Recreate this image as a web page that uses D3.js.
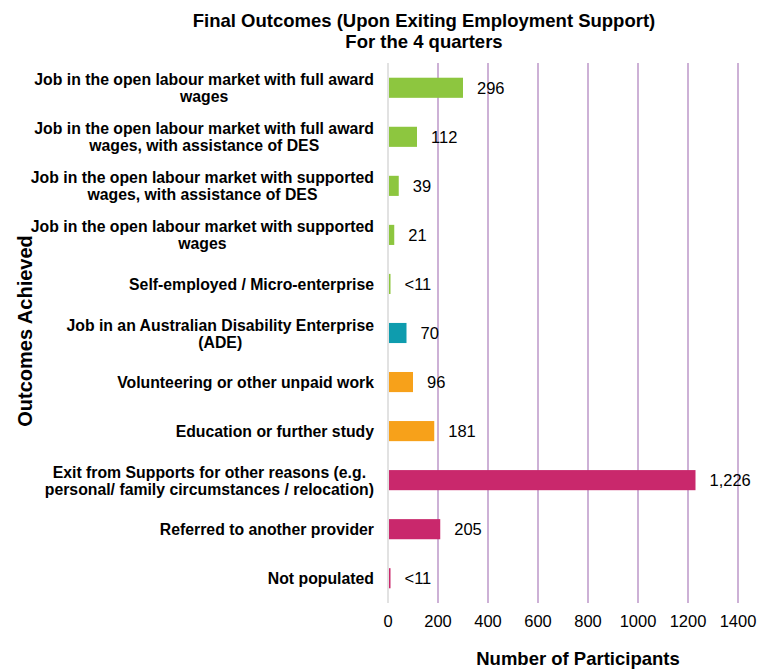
<!DOCTYPE html>
<html>
<head>
<meta charset="utf-8">
<script src="https://cdn.jsdelivr.net/npm/d3@7"></script>
<style>
  body { margin: 0; background: #fff; }
  text { font-family: "Liberation Sans", Arial, sans-serif; fill: #000; }
</style>
</head>
<body>
<svg id="chart" width="758" height="671"></svg>
<script>
// data
const categories = [
  ["Job in the open labour market with full award", "wages"],
  ["Job in the open labour market with full award", "wages, with assistance of DES"],
  ["Job in the open labour market with supported", "wages, with assistance of DES"],
  ["Job in the open labour market with supported", "wages"],
  ["Self-employed / Micro-enterprise"],
  ["Job in an Australian Disability Enterprise", "(ADE)"],
  ["Volunteering or other unpaid work"],
  ["Education or further study"],
  ["Exit from Supports for other reasons (e.g.", "personal/ family circumstances / relocation)"],
  ["Referred to another provider"],
  ["Not populated"]
];
const values = [296, 112, 39, 21, 6, 70, 96, 181, 1226, 205, 6];
const valueLabels = ["296", "112", "39", "21", "<11", "70", "96", "181", "1,226", "205", "<11"];
const groups = ["open", "open", "open", "open", "open", "ade", "other", "other", "exit", "exit", "exit"];
const xTicks = [0, 200, 400, 600, 800, 1000, 1200, 1400];

const svg = d3.select("#chart");
const margin = {top: 63, right: 20, bottom: 68, left: 388};
const width = 758, height = 671;

const x = d3.scaleLinear().domain([0, 1400]).range([margin.left, 738]);
const y = d3.scaleBand()
  .domain(d3.range(categories.length))
  .range([margin.top, height - margin.bottom])
  .paddingInner(0.59).paddingOuter(0.3);

const color = d3.scaleOrdinal()
  .domain(["open", "ade", "other", "exit"])
  .range(["#8DC63F", "#0E9CAE", "#F7A11A", "#C9286C"]);

// gridlines
svg.append("g").selectAll("line")
  .data(xTicks.slice(1))
  .join("line")
  .attr("x1", d => x(d)).attr("x2", d => x(d))
  .attr("y1", margin.top).attr("y2", height - margin.bottom)
  .attr("stroke", "#CDB1D6").attr("stroke-width", 2);

svg.append("line")
  .attr("x1", x(0)).attr("x2", x(0))
  .attr("y1", margin.top).attr("y2", height - margin.bottom)
  .attr("stroke", "#D9D9D9").attr("stroke-width", 1.5);

// bars
svg.selectAll(".bar")
  .data(values)
  .join("rect")
  .attr("class", "bar")
  .attr("x", x(0) + 1)
  .attr("y", (d, i) => y(i))
  .attr("width", d => x(d) - x(0))
  .attr("height", y.bandwidth())
  .attr("fill", (d, i) => color(groups[i]));

// value labels
svg.selectAll(".val")
  .data(values)
  .join("text")
  .attr("class", "val")
  .attr("x", d => x(d) + 15)
  .attr("y", (d, i) => y(i) + y.bandwidth() / 2 + 6)
  .attr("font-size", 16.5)
  .text((d, i) => valueLabels[i]);

// category labels, lines centred inside a right-aligned block
const labelRight = 374;
categories.forEach((lines, i) => {
  const g = svg.append("g");
  const cy = y(i) + y.bandwidth() / 2;
  const texts = lines.map((l, j) => g.append("text")
    .attr("font-size", 15.8).attr("font-weight", "bold")
    .attr("text-anchor", "middle")
    .attr("y", cy + 6 + (j - (lines.length - 1) / 2) * 17)
    .text(l));
  const w = d3.max(texts, t => t.node().getComputedTextLength());
  texts.forEach(t => t.attr("x", labelRight - w / 2));
});

// x axis tick labels
svg.append("g").selectAll("text")
  .data(xTicks)
  .join("text")
  .attr("x", d => x(d))
  .attr("y", 627)
  .attr("text-anchor", "middle")
  .attr("font-size", 16.5)
  .text(d => d);

// titles
const title = svg.append("text")
  .attr("text-anchor", "middle")
  .attr("font-weight", "bold").attr("font-size", 18.5);
title.append("tspan").attr("x", 424).attr("y", 27).text("Final Outcomes (Upon Exiting Employment Support)");
title.append("tspan").attr("x", 424).attr("y", 48).text("For the 4 quarters");

svg.append("text")
  .attr("x", 578).attr("y", 665)
  .attr("text-anchor", "middle")
  .attr("font-weight", "bold").attr("font-size", 18.5)
  .text("Number of Participants");

svg.append("text")
  .attr("transform", "translate(32,331) rotate(-90)")
  .attr("text-anchor", "middle")
  .attr("font-weight", "bold").attr("font-size", 20)
  .text("Outcomes Achieved");
</script>
</body>
</html>
